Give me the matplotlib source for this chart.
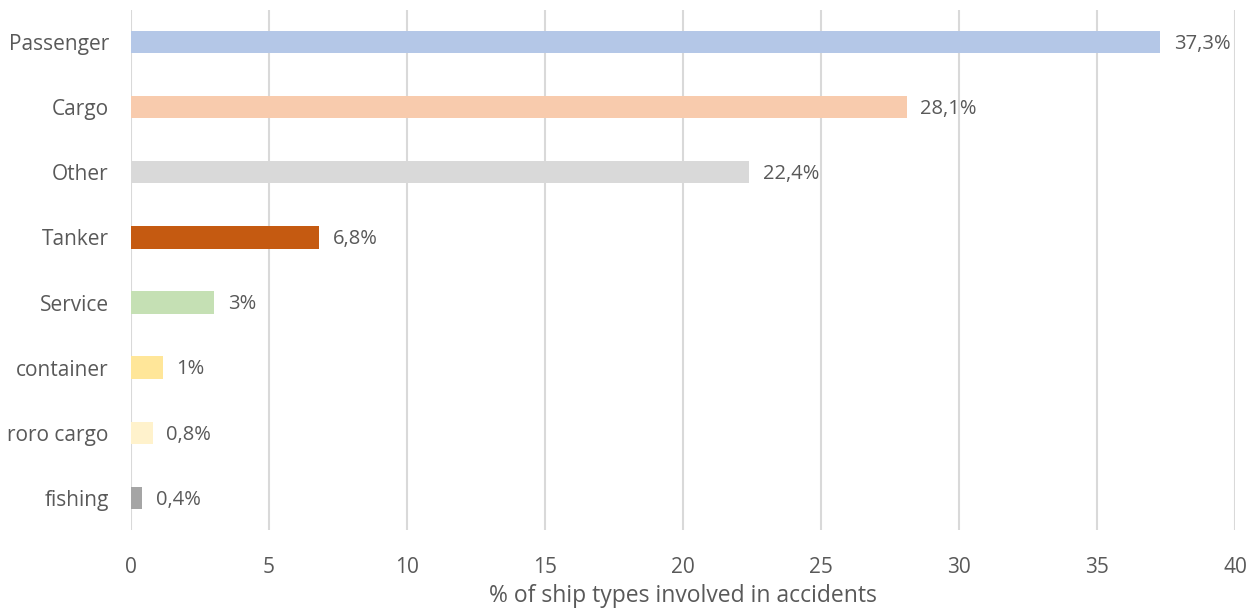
import matplotlib.pyplot as plt

# ship types, top to bottom
categories = ['Passenger', 'Cargo', 'Other', 'Tanker', 'Service',
              'container', 'roro cargo', 'fishing']
values = [37.3, 28.1, 22.4, 6.8, 3.0, 1.15, 0.78, 0.4]
value_labels = ['37,3%', '28,1%', '22,4%', '6,8%', '3%', '1%', '0,8%', '0,4%']
colors = ['#B4C7E7', '#F8CBAD', '#D9D9D9', '#C55A11', '#C5E0B4',
          '#FFE699', '#FFF2CC', '#A5A5A5']
xticks = [0, 5, 10, 15, 20, 25, 30, 35, 40]

plt.rcParams['font.family'] = ['Open Sans', 'DejaVu Sans']
txt = '#595959'

fig = plt.figure(figsize=(12.57, 6.15), dpi=100)
ax = fig.add_axes([0.1042, 0.138, 0.8783, 0.846])

ypos = list(range(len(categories)))[::-1]
ax.barh(ypos, values, height=0.34, color=colors, zorder=3)

# value labels, sitting a touch below bar centre like the original
for y, v, lab in zip(ypos, values, value_labels):
    ax.text(v + 0.5, y - 0.03, lab, va='center', ha='left', fontsize=14.5,
            color=txt, zorder=4)

ax.set_xlim(0, 40)
ax.set_ylim(-0.5, len(categories) - 0.5)
ax.set_xticks(xticks)
ax.set_yticks(ypos)
ax.set_yticklabels(categories)
ax.grid(axis='x', color='#D9D9D9', linewidth=1.5, zorder=0)
for s in ax.spines.values():
    s.set_visible(False)
ax.tick_params(axis='both', length=0, labelsize=15, labelcolor=txt)
ax.tick_params(axis='x', pad=19)
ax.tick_params(axis='y', pad=16)
ax.set_xlabel('% of ship types involved in accidents', fontsize=16.5,
              color=txt, labelpad=5)

fig.savefig('out.png', dpi=100)
